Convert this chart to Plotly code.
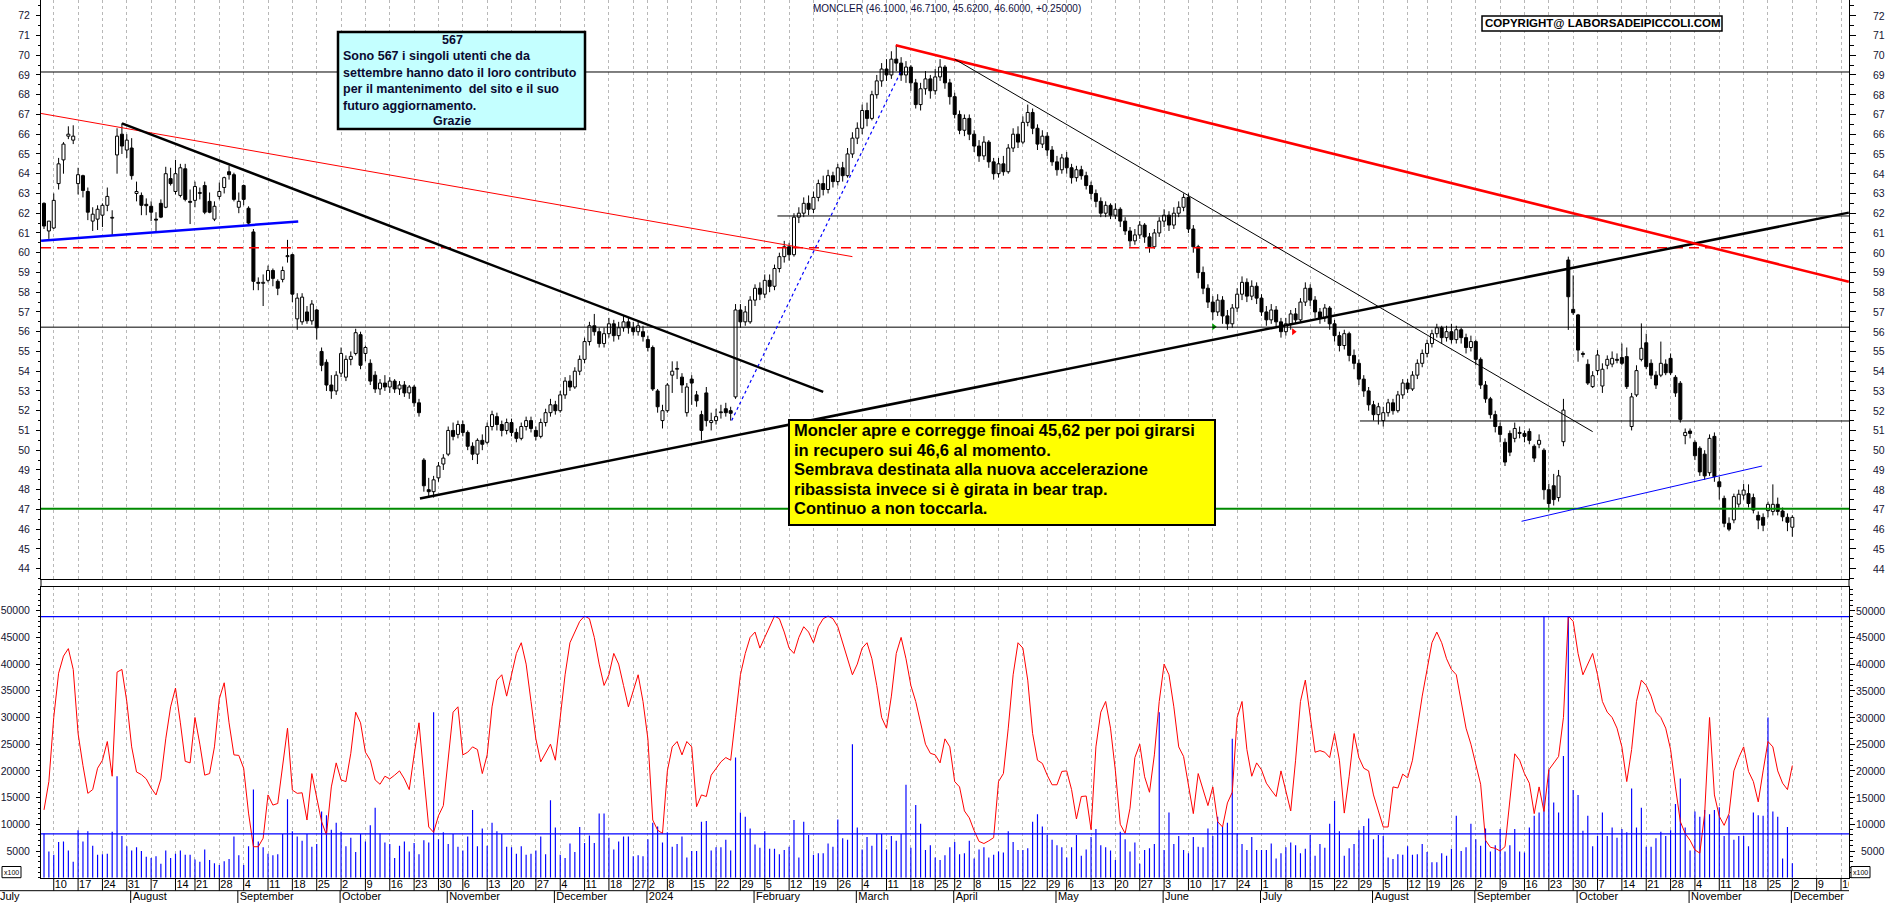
import plotly.graph_objects as go
import pandas as pd

# ---------------- data ----------------
opens = [
62.5,61.1,61.25,63.5,64.7,65.9,65.7,63.5,63.9,63.1,
61.6,61.7,61.9,62.4,61.75,64.95,66.0,65.2,65.3,63.0,
62.9,62.45,62.35,61.7,62.5,62.3,63.75,63.1,62.9,64.25,
62.6,62.65,63.0,63.4,62.6,61.7,62.85,63.3,64.1,63.95,
62.3,63.4,62.25,61.05,58.5,58.45,58.6,59.1,58.55,58.65,
59.8,59.9,56.65,56.5,57.0,56.55,57.1,55.0,54.45,53.3,
53.0,53.9,53.7,54.6,54.9,55.85,54.9,54.4,53.8,53.1,
53.4,53.2,53.5,53.1,53.3,52.9,53.2,52.4,49.5,48.0,
47.9,48.6,49.3,49.8,51.0,50.8,51.3,50.9,50.2,49.8,
50.5,50.4,51.2,51.7,51.3,51.0,51.4,50.9,50.6,51.2,
51.5,51.0,50.7,51.4,51.9,52.3,52.0,52.8,53.5,53.2,
54.0,54.6,55.5,56.3,56.0,55.4,55.9,56.4,55.8,56.2,
56.5,56.2,56.0,56.0,55.6,55.2,53.0,51.5,52.0,53.8,
54.1,53.7,51.9,53.6,52.8,51.8,52.9,51.4,51.5,51.9,
52.1,52.0,52.7,57.1,56.5,56.5,57.6,58.2,57.9,58.6,
58.3,59.2,59.8,60.3,59.9,61.8,62.0,62.5,62.2,62.8,
63.5,63.2,63.9,63.6,64.3,63.9,65.0,65.8,66.3,67.2,
66.8,68.0,68.7,69.3,69.0,69.8,69.6,69.0,69.4,68.6,
67.5,68.3,68.8,68.2,68.9,69.4,68.6,67.9,67.0,66.2,
66.8,66.0,65.4,64.9,65.6,64.6,64.0,64.5,64.1,65.3,
66.0,65.6,66.6,67.1,66.3,65.5,65.9,65.2,64.6,64.2,
64.8,64.3,63.8,64.2,63.9,63.4,63.0,62.6,62.0,62.4,
61.9,62.2,61.6,61.1,60.6,60.9,61.4,60.8,60.3,61.0,
61.6,61.9,61.4,62.0,62.3,62.8,61.2,60.3,59.0,58.2,
57.5,57.0,57.6,56.8,56.4,57.2,57.9,58.5,57.8,58.3,
57.7,57.0,56.6,57.1,56.5,56.0,56.4,56.9,56.6,57.5,
58.2,57.6,57.0,56.7,57.2,56.4,55.8,55.3,55.9,54.8,
54.4,53.6,53.0,52.3,51.8,51.5,51.9,52.4,52.0,52.8,
53.4,53.1,53.8,54.4,54.9,55.4,55.9,56.2,55.7,56.0,
55.6,56.1,55.7,55.2,55.5,54.6,53.3,52.6,51.8,51.2,
50.4,50.85,50.6,50.9,50.85,50.95,50.2,50.3,50.0,48.0,
48.2,47.6,50.43,59.63,57.13,56.85,54.9,54.35,53.22,54.03,
53.25,54.3,54.36,54.6,54.69,54.74,51.2,52.8,54.6,55.44,
54.4,53.8,53.8,54.36,54.65,53.69,53.39,50.74,50.97,50.4,
50.1,49.8,48.86,50.7,48.4,47.56,46.3,46.47,47.27,47.73,
47.8,47.6,46.7,46.6,46.94,46.9,47.26,46.92,46.6,46.1]
highs = [
62.55,61.6,63.0,64.8,65.6,66.4,66.45,64.3,63.95,63.3,
62.3,62.4,62.5,63.3,62.15,66.3,66.55,66.0,65.8,63.6,
63.05,62.75,62.6,62.05,62.7,64.35,64.3,64.7,64.5,64.5,
63.2,63.6,63.3,63.6,63.05,62.6,63.55,63.85,64.4,64.05,
63.05,63.45,62.35,61.2,58.75,58.9,59.35,59.2,58.65,59.3,
60.65,59.95,57.95,57.95,57.3,57.6,57.15,55.2,54.6,53.8,
54.0,55.2,54.8,55.0,56.15,56.0,55.3,54.6,54.0,53.6,
53.8,53.7,53.6,53.5,53.5,53.3,53.3,52.6,49.6,48.6,
48.7,49.4,49.8,51.2,51.4,51.5,51.5,51.0,50.4,50.6,
50.8,51.4,52.0,51.9,51.5,51.6,51.6,51.1,51.4,51.7,
51.7,51.2,51.6,52.1,52.6,52.5,53.0,53.7,53.8,54.2,
54.8,55.7,56.5,56.9,56.2,56.2,56.7,56.6,56.5,56.8,
56.7,56.5,56.5,56.3,55.8,55.3,53.1,52.3,53.4,54.5,
54.5,53.9,53.4,53.8,53.0,52.0,53.2,51.9,52.1,52.3,
52.4,52.2,57.4,57.4,57.3,57.8,58.4,58.5,58.9,58.9,
59.4,60.0,60.6,60.5,62.0,62.3,62.8,62.9,63.1,63.7,
63.9,64.2,64.1,64.5,64.6,65.3,66.1,66.6,67.5,67.6,
68.2,69.0,69.6,69.8,70.2,70.5,69.9,69.7,69.5,68.8,
68.6,69.2,69.0,69.3,69.8,69.5,68.8,68.1,67.2,67.0,
67.0,66.2,65.7,65.9,65.7,64.8,64.8,64.9,65.5,66.3,
66.4,66.9,67.5,67.3,66.5,66.2,66.1,65.4,64.9,65.0,
65.1,64.5,64.4,64.4,64.1,63.6,63.2,62.8,62.6,62.5,
62.5,62.3,61.8,61.3,61.2,61.6,61.5,61.0,61.2,61.8,
62.2,62.1,62.3,62.6,63.0,63.0,61.4,60.4,59.3,58.4,
57.8,57.9,57.8,57.1,57.4,58.2,58.8,58.7,58.6,58.5,
57.9,57.3,57.4,57.3,56.7,56.7,57.1,57.2,57.7,58.5,
58.4,57.8,57.2,57.4,57.3,56.6,56.0,56.1,56.0,55.1,
54.6,53.8,53.2,52.5,52.4,52.2,52.6,52.6,53.0,53.6,
53.6,54.0,54.6,55.1,55.6,56.1,56.4,56.3,56.3,56.4,
56.3,56.2,55.9,55.8,55.6,54.7,53.5,52.7,52.0,51.4,
50.6,51.0,51.4,51.2,51.0,51.1,50.3,50.8,50.1,48.3,
48.8,49.0,52.6,59.8,58.85,56.9,55.0,54.6,54.0,55.07,
54.4,54.8,55.0,54.9,55.4,55.2,52.9,54.3,56.42,55.9,
54.6,54.0,55.5,54.6,54.9,53.8,53.5,51.1,51.1,50.5,
50.2,50.0,50.8,50.9,48.65,47.7,46.6,47.8,48.0,48.3,
48.27,47.8,46.9,46.8,47.4,48.27,47.6,47.1,46.8,46.71]
lows = [
61.2,60.7,61.2,63.2,64.0,65.75,65.5,62.95,62.8,61.65,
61.1,61.15,61.3,62.1,60.9,64.0,65.0,64.8,63.7,62.6,
61.9,61.9,61.6,61.1,61.75,62.25,63.4,62.95,62.8,62.6,
61.45,62.3,62.7,61.95,62.0,61.6,62.7,63.0,63.7,62.6,
62.0,62.4,61.35,58.1,58.1,57.3,58.5,58.3,57.85,58.5,
59.5,57.5,56.1,56.35,56.4,56.35,55.6,54.0,53.0,52.6,
52.8,53.7,53.5,54.3,54.8,54.1,54.5,53.3,52.9,52.8,
53.0,52.9,52.9,52.8,52.7,52.6,52.2,51.7,47.9,47.6,
47.6,48.4,49.0,49.7,50.5,50.6,50.7,50.0,49.5,49.3,
50.0,50.3,51.0,51.0,50.7,50.8,50.7,50.4,50.5,51.0,
50.9,50.5,50.6,51.2,51.7,51.8,51.9,52.6,53.0,53.1,
53.8,54.4,55.3,55.8,55.2,55.2,55.7,55.5,55.6,56.0,
55.9,55.8,55.8,55.5,55.0,53.0,51.9,51.1,51.9,52.9,
53.6,52.9,51.7,52.3,52.2,50.5,51.2,51.0,51.3,51.6,
51.7,51.5,52.6,56.2,56.3,56.4,57.3,57.6,57.7,58.0,
58.1,59.0,59.5,59.6,59.8,61.5,61.8,61.9,62.0,62.6,
62.9,63.0,63.3,63.4,63.6,63.8,64.8,65.5,66.0,66.4,
66.7,67.8,68.4,68.7,68.8,69.2,68.7,68.6,68.2,67.3,
67.2,68.0,67.8,68.0,68.7,68.3,67.5,66.8,66.0,65.9,
65.7,65.1,64.6,64.7,64.3,63.7,63.8,63.9,64.0,65.1,
65.3,65.5,66.4,66.0,65.2,65.3,64.9,64.4,63.9,64.0,
64.0,63.5,63.6,63.7,63.2,62.7,62.3,61.8,61.8,61.7,
61.7,61.3,60.9,60.3,60.4,60.7,60.5,60.0,60.2,60.8,
61.3,61.1,61.2,61.8,62.1,61.0,60.0,58.7,57.9,57.2,
56.6,56.8,56.4,56.1,56.2,57.0,57.6,57.5,57.6,57.4,
56.8,56.3,56.4,56.2,55.7,55.8,56.1,56.4,56.5,57.3,
57.3,56.7,56.4,56.5,56.1,55.5,55.0,55.1,54.5,54.1,
53.3,52.7,52.0,51.5,51.3,51.2,51.7,51.8,51.9,52.6,
52.9,53.0,53.6,54.2,54.7,55.2,55.7,55.4,55.5,55.4,
55.4,55.4,54.9,55.0,54.3,53.1,52.4,51.6,50.9,50.4,
49.2,49.7,50.4,50.6,50.4,50.3,49.4,50.1,47.5,46.9,
47.2,47.4,50.2,56.09,56.85,54.48,54.7,53.3,53.15,53.8,
52.9,54.1,54.2,54.4,54.3,53.1,51.0,52.7,54.5,54.1,
53.6,53.1,53.7,53.8,53.8,52.7,51.4,50.3,50.6,49.5,
48.7,48.5,48.7,48.4,47.5,46.1,45.9,46.3,47.1,47.5,
47.1,46.8,46.0,45.9,46.6,46.7,46.7,46.4,45.9,45.62]
closes = [
61.35,61.6,62.65,64.5,65.5,66.0,65.9,63.95,63.15,62.05,
61.95,62.2,62.4,62.85,61.75,65.9,65.4,65.7,63.9,63.1,
62.4,62.38,62.05,61.65,61.8,64.0,63.5,64.0,64.3,62.7,
62.55,63.35,63.05,62.05,62.05,62.35,63.1,63.8,63.95,62.7,
62.6,62.7,61.5,58.55,58.45,58.5,59.1,58.7,58.2,59.1,
59.85,57.9,57.7,57.75,56.55,57.4,56.2,54.3,53.3,53.0,
53.8,54.9,54.6,54.75,55.95,54.3,55.2,53.5,53.1,53.4,
53.2,53.5,53.1,53.3,52.9,53.2,52.4,51.9,48.2,47.9,
48.5,49.2,49.6,51.0,50.7,51.3,50.9,50.2,49.8,50.5,
50.3,51.2,51.8,51.3,51.0,51.4,50.9,50.6,51.2,51.5,
51.1,50.7,51.4,51.9,52.3,52.0,52.8,53.5,53.2,54.0,
54.6,55.5,56.3,56.0,55.4,55.9,56.4,55.8,56.2,56.5,
56.2,56.0,56.3,55.75,55.2,53.1,52.2,52.0,53.3,54.0,
54.1,53.3,53.2,53.4,52.5,51.0,51.5,51.5,51.7,51.9,
51.9,51.87,57.1,56.5,57.0,57.6,58.2,57.9,58.6,58.3,
59.2,59.8,60.3,59.9,61.8,62.0,62.5,62.2,62.8,63.5,
63.2,63.9,63.6,64.3,63.9,65.0,65.8,66.3,67.2,66.8,
68.0,68.7,69.3,69.0,69.8,69.6,69.0,69.4,68.6,67.5,
68.3,68.8,68.2,68.9,69.4,68.6,67.9,67.0,66.2,66.8,
66.0,65.4,64.9,65.6,64.6,64.0,64.5,64.1,65.3,66.0,
65.6,66.6,67.1,66.3,65.5,65.9,65.2,64.6,64.2,64.8,
64.3,63.8,64.2,63.9,63.4,63.0,62.6,62.0,62.4,61.9,
62.2,61.6,61.1,60.6,60.9,61.4,60.8,60.3,61.0,61.6,
61.9,61.4,62.0,62.3,62.8,61.2,60.3,59.0,58.2,57.5,
57.0,57.6,56.8,56.4,57.2,57.9,58.5,57.8,58.3,57.7,
57.0,56.6,57.1,56.5,56.0,56.4,56.9,56.6,57.5,58.2,
57.6,57.0,56.7,57.2,56.4,55.8,55.3,55.9,54.8,54.4,
53.6,53.0,52.3,51.8,52.2,51.9,52.4,52.0,52.8,53.4,
53.1,53.8,54.4,54.9,55.4,55.9,56.2,55.7,56.0,55.6,
56.1,55.7,55.2,55.5,54.6,53.3,52.6,51.8,51.2,50.8,
49.4,49.9,51.1,50.85,50.7,50.5,49.6,50.5,48.0,47.3,
47.5,48.7,52.03,57.77,56.96,55.07,54.85,53.4,53.77,54.82,
54.1,54.6,54.65,54.55,54.4,53.22,52.7,54.03,55.16,54.23,
53.8,53.3,54.4,53.92,53.92,52.9,51.56,50.9,50.85,49.72,
48.9,48.7,50.6,48.66,48.15,46.3,46.0,47.65,47.77,47.98,
47.3,46.97,46.46,46.2,47.26,47.26,46.9,46.63,46.35,46.6]
# volume (x100)
volumes = [
8300,4900,4300,6700,6800,5100,3000,8900,6800,8700,
6000,4300,4400,4500,8600,19000,7800,5900,5100,5700,
5000,3900,3700,4000,2600,5100,3700,4500,5100,4300,
4300,3400,3000,5300,3300,2700,2400,3100,3500,7700,
4200,2400,5900,16500,6800,5700,4500,4200,4400,8200,
14700,8700,7700,6900,8200,5800,6300,12400,11700,9000,
10300,8600,5900,7500,4800,8200,6800,9800,13100,8300,
6600,6300,3700,6000,6800,4900,6500,4400,7000,6600,
31000,7200,8500,6300,8200,5800,5100,7700,12700,5900,
9200,6000,10300,8700,8200,5800,5700,4500,5900,4300,
4500,5100,7700,4400,14500,9400,4300,3700,6400,4800,
9500,6500,7900,6500,12000,12000,7500,5300,6800,7700,
7700,4000,4200,4000,7200,10300,9600,6600,8500,5800,
6300,7700,3800,5000,5000,10500,10600,5100,5700,5700,
7100,5100,22500,12200,11400,9200,6200,5600,8700,5400,
5400,4400,5200,5800,10800,3800,10500,8000,4300,4600,
4600,6400,5800,10900,7400,7100,25000,9400,5300,7600,
6000,8200,8200,5300,7800,6900,8200,17400,5600,13600,
10100,5200,6100,3800,3300,4200,5700,6700,4400,4600,
6900,3600,5300,5700,3800,4300,4900,4700,8700,6700,
5200,5200,5500,10500,11900,9600,8000,7100,6100,5700,
3800,5700,8000,4100,5300,7600,9100,6100,5700,5100,
3300,8600,7200,4900,6600,2600,5200,5500,6300,31000,
5200,12200,6300,7800,5200,4600,7600,5800,5700,9200,
7800,11400,9600,10300,26000,8300,6300,5200,7600,5200,
5200,5200,6400,3600,4600,5700,6600,6100,4600,5400,
8000,4100,6300,5600,10100,14400,8700,4100,5500,6300,
8900,9700,11100,7200,8000,7800,3800,3500,4400,4300,
5900,4300,4400,6300,4800,2900,2900,4600,4100,5400,
11600,5000,5700,10100,7200,6000,9200,4900,6100,9100,
4900,6100,9100,4900,4700,9400,11600,12200,48900,20200,
14100,12200,22800,49000,16400,15500,8800,11600,5900,7800,
12200,7800,9400,7500,9100,8500,16700,9400,13100,5800,
5800,7400,8600,7800,8900,13800,18600,9400,5100,12400,
11400,12700,11900,12700,13200,7800,11700,7100,7800,7800,
5900,12200,11700,11600,30000,12400,11400,3600,9500,2700]
# oscillator drawn in red over the volume panel (same x100 scale)
oscillator = [
12700,18000,30000,38300,41500,42900,39000,27000,21000,15800,
16500,20500,22000,25500,19000,38500,39000,33000,24500,19800,
19300,18500,16800,15500,18500,26000,32000,35500,29000,21800,
21500,30000,25000,19200,19500,24500,33500,36500,29000,23000,
22900,20500,12100,5800,5800,7400,15500,13600,13900,20500,
28000,16400,15800,15900,10800,19500,15200,10500,8000,17000,
21500,18300,18000,23300,31000,29000,23500,22000,18300,17500,
19000,18500,19200,20000,18500,16500,23000,29000,19000,9500,
8500,11600,13500,22000,31000,32000,23000,23500,24500,24000,
19500,23000,32000,37000,38000,34000,38000,42000,44000,40000,
33000,26000,21700,23500,25000,22000,30000,38000,44000,46000,
48000,49000,48500,45000,40000,36000,38000,42000,40000,36000,
32000,35000,38000,33000,26000,10800,8900,8300,20000,24500,
25500,23000,25500,24500,13300,15500,15200,19200,20500,21700,
22500,22000,30000,38000,42000,45000,46000,43000,45000,47000,
49000,48500,46000,43000,42000,45000,47000,46000,44000,47000,
48500,49000,48500,47000,44000,41000,38000,40000,43000,44000,
41000,36000,30000,28000,34000,42000,45000,41000,36000,33000,
29000,25000,23300,23000,21500,26000,24500,18000,17000,12500,
11200,8800,6800,6400,6900,7500,18000,19500,28000,38000,
44000,43000,37000,27000,22000,21400,19200,17400,17400,19900,
20000,16500,11000,15200,15300,9000,24500,31000,33000,28000,
20000,10000,8300,13000,22500,25000,18900,16000,23000,33000,
40000,38000,32000,24500,22700,17700,12000,19500,16500,13500,
17000,10500,9500,14000,16000,30000,33000,24000,19000,21500,
20200,17700,16400,15200,20000,16000,12500,22000,33000,37000,
30000,23500,23800,23500,22500,27000,22000,12100,19000,27000,
22500,20500,20000,15500,12500,9500,9500,17000,16800,19400,
18700,22000,28000,34000,39000,44000,46000,44000,41000,39000,
38000,33000,28000,25000,21400,17500,7000,5700,5500,5000,
5800,14000,23200,22000,19500,17700,12000,17000,12400,20200,
21400,22700,30000,49000,48000,42000,38000,40000,42000,38000,
33000,31000,30000,28000,24500,18000,24000,33000,37000,36000,
34000,31000,30000,28000,24000,17000,10500,8300,7000,5200,
4600,12000,30000,15500,11500,9800,12000,20000,22500,24500,
19900,18000,14200,20000,25500,24500,20000,17700,16500,21000]

holidays = ["2023-08-15", "2023-12-25", "2023-12-26", "2024-01-01", "2024-03-29",
            "2024-04-01", "2024-05-01", "2024-08-15", "2024-12-24", "2024-12-25", "2024-12-26"]

price_ticks = list(range(44, 73))
vol_ticks = list(range(5000, 50001, 5000))

hlines = [  # price, first bar, colour, width, dash
    (69.15, None, "black", 1, "solid"),
    (61.86, 150.6, "black", 1, "solid"),
    (60.25, None, "#ff0000", 1.5, "10px,6px"),
    (56.23, None, "black", 1, "solid"),
    (51.48, 270.2, "black", 1, "solid"),
    (47.03, None, "#008a00", 2, "solid"),
]
trendlines = [  # (bar0, price0, bar1, price1, colour, width, dash)
    (-0.6, 67.05, 166.0, 59.80, "#ff0000", 1, "solid"),
    (16.0, 66.55, 160.0, 52.95, "black", 2.5, "solid"),
    (-0.6, 60.60, 52.2, 61.58, "#0000ff", 2.5, "solid"),
    (77.2, 47.55, 370.6, 62.03, "black", 2.5, "solid"),
    (174.9, 70.50, 370.6, 58.53, "#ff0000", 2.5, "solid"),
    (187.0, 69.80, 318.0, 50.94, "black", 1, "solid"),
    (141.2, 51.50, 176.0, 69.20, "#0000ff", 1.2, "dot"),
    (303.4, 46.40, 352.8, 49.20, "#0000ff", 1, "solid"),
]
signal_bars = [240.2, 256.6]
signal_prices = [56.25, 56.0]
signal_colors = ["#00a000", "#ff0000"]
vol_levels = [48900, 8200]

# ---------------- geometry of the picture ----------------
W, H = 1890, 903
PX_L, PX_R = 41, 1849
BAR0_PX, BAR_PX = 44.0, 4.87
PRICE_BOT_PX = 579
VOL_TOP_PX, VOL_BOT_PX = 587, 877.7
FONT = "Liberation Sans, Arial, sans-serif"

def bar_at(px):
    return (px - BAR0_PX) / BAR_PX

def price_at(py):
    return 72 - (py - 15.7) / 19.75

def vol_at(py):
    return (VOL_BOT_PX - py) / 26.7 * 5000

def xp(px):
    return px / W

def yp(py):
    return 1 - py / H

X_RANGE = [bar_at(PX_L), bar_at(PX_R)]

# trading calendar
days = pd.bdate_range("2023-07-06", "2024-12-31")
days = days[~days.isin(pd.to_datetime(holidays))]
maxbar = X_RANGE[1]
week_idx = [i for i in range(1, len(days))
            if days[i].isocalendar()[1] != days[i - 1].isocalendar()[1] and i <= maxbar]
month_idx = [i for i in range(1, len(days)) if days[i].month != days[i - 1].month and i <= maxbar]
MONTHS = ["", "January", "February", "March", "April", "May", "June", "July", "August",
          "September", "October", "November", "December"]
month_txt = [("%d" % days[i].year) if days[i].month == 1 else MONTHS[days[i].month] for i in month_idx]

N = len(closes)
idx = list(range(N))

fig = go.Figure()

# wicks
wx, wy = [], []
for i in idx:
    top = max(opens[i], closes[i])
    bot = min(opens[i], closes[i])
    wx += [i, i, None, i, i, None]
    wy += [highs[i], top, None, bot, lows[i], None]
fig.add_trace(go.Scatter(x=wx, y=wy, mode="lines", line=dict(color="black", width=1),
                         hoverinfo="skip", showlegend=False, xaxis="x", yaxis="y"))
# bodies
base = [min(o, c) for o, c in zip(opens, closes)]
hgt = [max(abs(c - o), 0.04) for o, c in zip(opens, closes)]
col = ["white" if c >= o else "black" for o, c in zip(opens, closes)]
fig.add_trace(go.Bar(x=idx, y=hgt, base=base, width=0.62,
                     marker=dict(color=col, line=dict(color="black", width=1)),
                     hoverinfo="skip", showlegend=False, xaxis="x", yaxis="y"))
fig.add_trace(go.Scatter(x=signal_bars, y=signal_prices, mode="markers",
                         marker=dict(symbol="triangle-right", size=6, color=signal_colors),
                         hoverinfo="skip", showlegend=False, xaxis="x", yaxis="y"))

# volume + oscillator
fig.add_trace(go.Bar(x=idx, y=volumes, width=0.24, marker=dict(color="#0000ff", line=dict(width=0)),
                     hoverinfo="skip", showlegend=False, xaxis="x2", yaxis="y2"))
fig.add_trace(go.Scatter(x=idx, y=oscillator, mode="lines", line=dict(color="#ff0000", width=1),
                         hoverinfo="skip", showlegend=False, xaxis="x2", yaxis="y2"))

# dummy traces for the right-hand axes
fig.add_trace(go.Scatter(x=[0], y=[60], mode="markers", marker=dict(opacity=0), showlegend=False,
                         hoverinfo="skip", xaxis="x", yaxis="y3"))
fig.add_trace(go.Scatter(x=[0], y=[1000], mode="markers", marker=dict(opacity=0), showlegend=False,
                         hoverinfo="skip", xaxis="x2", yaxis="y4"))

# date strip labels
fig.add_trace(go.Scatter(x=[i + 0.2 for i in week_idx], y=[18.0] * len(week_idx),
                         text=[str(days[i].day) for i in week_idx], mode="text",
                         textposition="middle right", cliponaxis=True,
                         textfont=dict(family=FONT, size=11, color="black"),
                         hoverinfo="skip", showlegend=False, xaxis="x3", yaxis="y5"))
fig.add_trace(go.Scatter(x=[i + 0.2 for i in month_idx] + [bar_at(0)], y=[6.0] * (len(month_idx) + 1),
                         text=month_txt + ["July"], mode="text",
                         textposition="middle right", cliponaxis=False,
                         textfont=dict(family=FONT, size=11, color="black"),
                         hoverinfo="skip", showlegend=False, xaxis="x3", yaxis="y5"))

shapes = []
for (p, b0, c, w, d) in hlines:
    shapes.append(dict(type="line", xref="x", yref="y", x0=(X_RANGE[0] if b0 is None else b0), x1=X_RANGE[1],
                       y0=p, y1=p, line=dict(color=c, width=w, dash=d)))
for (b0, p0, b1, p1, c, w, d) in trendlines:
    shapes.append(dict(type="line", xref="x", yref="y", x0=b0, y0=p0, x1=b1, y1=p1,
                       line=dict(color=c, width=w, dash=d)))
for v in vol_levels:
    shapes.append(dict(type="line", xref="x2", yref="y2", x0=X_RANGE[0], x1=X_RANGE[1], y0=v, y1=v,
                       line=dict(color="#0000ff", width=1.2)))
# date strip ticks / separators
for i in week_idx:
    shapes.append(dict(type="line", xref="x3", yref="y5", x0=i, x1=i, y0=12.3, y1=25.3,
                       line=dict(color="black", width=1)))
for i in month_idx:
    shapes.append(dict(type="line", xref="x3", yref="y5", x0=i - 0.2, x1=i - 0.2, y0=0, y1=12.3,
                       line=dict(color="black", width=1)))
shapes.append(dict(type="line", xref="paper", yref="paper", x0=0, x1=xp(PX_R), y0=yp(890.7), y1=yp(890.7),
                   line=dict(color="black", width=1)))
for xx in (PX_L, PX_R):
    shapes.append(dict(type="line", xref="paper", yref="paper", x0=xp(xx), x1=xp(xx),
                       y0=yp(PRICE_BOT_PX), y1=yp(VOL_TOP_PX), line=dict(color="black", width=1)))
# boxes
shapes.append(dict(type="rect", xref="paper", yref="paper", x0=xp(338), x1=xp(585), y0=yp(32), y1=yp(129),
                   fillcolor="#c4ffff", line=dict(color="black", width=2.5)))
shapes.append(dict(type="rect", xref="paper", yref="paper", x0=xp(789), x1=xp(1215), y0=yp(420), y1=yp(525),
                   fillcolor="#ffff00", line=dict(color="black", width=2)))
shapes.append(dict(type="rect", xref="paper", yref="paper", x0=xp(1482), x1=xp(1722), y0=yp(16), y1=yp(31),
                   fillcolor="white", line=dict(color="black", width=1.5)))
for (a, b) in ((2, 21), (1851, 1870)):
    shapes.append(dict(type="rect", xref="paper", yref="paper", x0=xp(a), x1=xp(b), y0=yp(866.5), y1=yp(877.7),
                       fillcolor="white", line=dict(color="black", width=1)))

ann = []
def text(px, py, s, size, color="black", anchor="left", bold=False):
    ann.append(dict(xref="paper", yref="paper", x=xp(px), y=yp(py), text=("<b>%s</b>" % s) if bold else s,
                    showarrow=False, xanchor=anchor, yanchor="middle",
                    font=dict(family=FONT, size=size, color=color)))

text(811, 8.5, "MONCLER (46.1000, 46.7100, 45.6200, 46.6000, +0.25000)", 10, "#101040")
text(1602, 23.5, "COPYRIGHT@ LABORSADEIPICCOLI.COM", 11.5, "black", "center", True)
CY = "#0a0a30"
text(452, 40, "567", 12.5, CY, "center", True)
for k, s in enumerate(["Sono 567 i singoli utenti che da",
                       "settembre hanno dato il loro contributo",
                       "per il mantenimento  del sito e il suo",
                       "futuro aggiornamento."]):
    text(341, 56 + 16.7 * k, s, 12.5, CY, "left", True)
text(452, 121, "Grazie", 12.5, CY, "center", True)
for k, s in enumerate(["Moncler apre e corregge finoai 45,62 per poi girarsi",
                       "in recupero sui 46,6 al momento.",
                       "Sembrava destinata alla nuova accelerazione",
                       "ribassista invece si è girata in bear trap.",
                       "Continuo a non toccarla."]):
    text(792, 430 + 19.5 * k, s, 16.5, "black", "left", True)
text(11.5, 872.3, "x100", 7, "black", "center")
text(1860.5, 872.3, "x100", 7, "black", "center")

# right-hand tick labels (right aligned as in the picture)
LBL = "#141432"
for p in price_ticks:
    ann.append(dict(xref="paper", yref="y", x=xp(1887), y=p, text=str(p), showarrow=False,
                    xanchor="right", yanchor="middle", font=dict(family=FONT, size=10.5, color=LBL)))
for v in vol_ticks:
    ann.append(dict(xref="paper", yref="y2", x=xp(1887), y=v, text=str(v), showarrow=False,
                    xanchor="right", yanchor="middle", font=dict(family=FONT, size=10.5, color=LBL)))

# ---------------- layout ----------------
p_dom = [yp(PRICE_BOT_PX), 1]
v_dom = [yp(VOL_BOT_PX), yp(VOL_TOP_PX)]
d_dom = [0, yp(VOL_BOT_PX)]
xdom = [xp(PX_L), xp(PX_R)]
P_RANGE = [price_at(PRICE_BOT_PX), price_at(0)]
V_RANGE = [0, vol_at(VOL_TOP_PX)]
tickfont = dict(family=FONT, size=10.5, color=LBL)
grid = dict(showgrid=True, gridcolor="#b8b8b8", gridwidth=1, griddash="3px,3px",
            tickmode="array", tickvals=week_idx, showticklabels=False, ticks="", zeroline=False)

fig.update_layout(
    width=W, height=H, margin=dict(l=0, r=0, t=0, b=0),
    paper_bgcolor="white", plot_bgcolor="white", showlegend=False, barmode="overlay",
    xaxis=dict(domain=xdom, range=X_RANGE, anchor="y", showline=True, linecolor="black", linewidth=1, **grid),
    xaxis2=dict(domain=xdom, range=X_RANGE, anchor="y2", matches="x", showline=True, mirror=True,
                linecolor="black", linewidth=1, **grid),
    xaxis3=dict(domain=[0, xp(PX_R)], range=[bar_at(0), X_RANGE[1]], anchor="y5", visible=False),
    yaxis=dict(domain=p_dom, range=P_RANGE, anchor="x", tickmode="array", tickvals=price_ticks,
               ticks="outside", ticklen=4, tickcolor="black", showline=True, linecolor="black",
               minor=dict(dtick=0.5, tick0=0, ticks="outside", ticklen=2.5, tickcolor="black"),
               tickfont=tickfont, showgrid=False, zeroline=False, ticklabelstandoff=4),
    yaxis3=dict(overlaying="y", side="right", anchor="x", range=P_RANGE, tickmode="array",
                tickvals=price_ticks, ticks="outside", ticklen=6, tickcolor="black", showline=True,
                linecolor="black", showticklabels=False,
                minor=dict(dtick=0.5, tick0=0, ticks="outside", ticklen=4, tickcolor="black"),
                showgrid=False, zeroline=False),
    yaxis2=dict(domain=v_dom, range=V_RANGE, anchor="x2", tickmode="array",
                tickvals=vol_ticks, ticktext=[str(v) for v in vol_ticks], ticks="outside", ticklen=4,
                tickcolor="black", showline=True, linecolor="black",
                minor=dict(dtick=1000, tick0=0, ticks="outside", ticklen=2.5, tickcolor="black"),
                tickfont=tickfont, showgrid=False, zeroline=False, ticklabelstandoff=4),
    yaxis4=dict(overlaying="y2", side="right", anchor="x2", range=V_RANGE, tickmode="array",
                tickvals=vol_ticks, ticks="outside", ticklen=5, tickcolor="black",
                showline=True, linecolor="black", showticklabels=False,
                minor=dict(dtick=1000, tick0=0, ticks="outside", ticklen=3, tickcolor="black"),
                showgrid=False, zeroline=False),
    yaxis5=dict(domain=d_dom, range=[0, H - VOL_BOT_PX], anchor="x3", visible=False),
    shapes=shapes, annotations=ann,
)

# the page's default 8px body margin would shift the 1890x903 figure out of the window
fig.write_html("out.html", config={"displayModeBar": False, "staticPlot": True},
               post_script="document.body.style.margin='0';document.body.style.padding='0';"
                           "document.body.style.overflow='hidden';")
